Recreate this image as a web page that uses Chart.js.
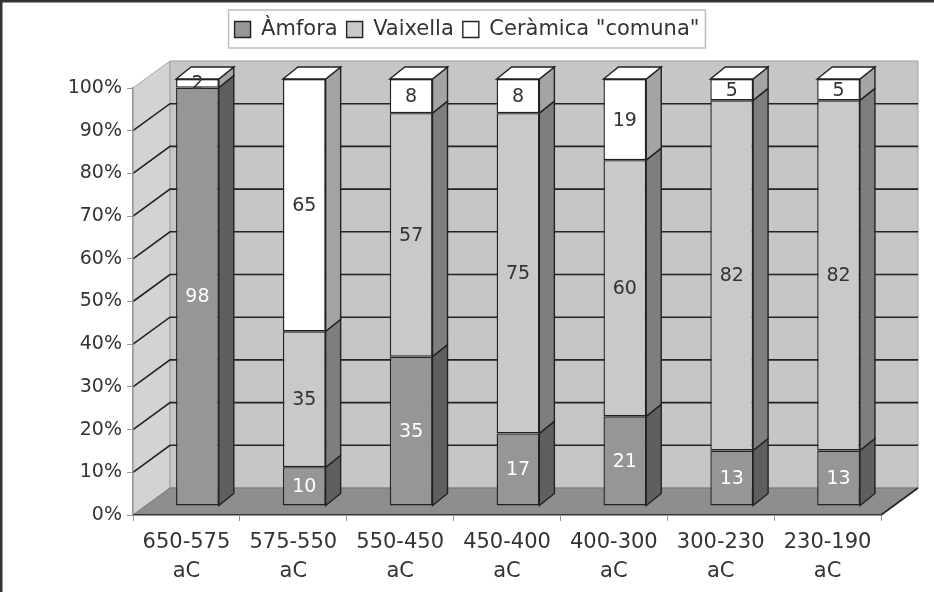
<!DOCTYPE html>
<html>
<head>
<meta charset="utf-8">
<script src="https://cdn.jsdelivr.net/npm/chart.js@4.4.1/dist/chart.umd.min.js"></script>
<style>
    html, body { margin: 0; padding: 0; background: #fff; }
    #wrap { width: 934px; height: 592px; position: relative; }
</style>
</head>
<body>
<div id="wrap"><canvas id="myChart"></canvas></div>
<script>
// dades
const periodes = [
    ['650-575', 'aC'], ['575-550', 'aC'], ['550-450', 'aC'], ['450-400', 'aC'],
    ['400-300', 'aC'], ['300-230', 'aC'], ['230-190', 'aC']
];
const amfora = [98, 10, 35, 17, 21, 13, 13];
const vaixella = [0, 35, 57, 75, 60, 82, 82];
const ceramica = [2, 65, 8, 8, 19, 5, 5];

// percentatge de cada periode (grafic 100% apilat)
function percent(serie) {
    return serie.map((v, i) => v / (amfora[i] + vaixella[i] + ceramica[i]) * 100);
}

const FONT = '"DejaVu Sans", sans-serif';
const PARET = { x: 37, y: -27 };   // fons de la paret
const DESPL = { x: 11, y: -9 };    // cara frontal de les columnes
const PROF = { x: 15, y: -12 };    // gruix de les columnes

function poly(ctx, pts, fill, stroke, lw) {
    ctx.beginPath();
    ctx.moveTo(pts[0][0], pts[0][1]);
    for (let i = 1; i < pts.length; i++) ctx.lineTo(pts[i][0], pts[i][1]);
    ctx.closePath();
    if (fill) { ctx.fillStyle = fill; ctx.fill(); }
    if (stroke) { ctx.strokeStyle = stroke; ctx.lineWidth = lw; ctx.stroke(); }
}

const legendMargin = {
    id: 'legendMargin',
    beforeInit(chart) {
        if (!chart.legend) return;
        const fitValue = chart.legend.fit;
        chart.legend.fit = function fit() {
            fitValue.bind(chart.legend)();
            this.height += 38;
        };
    },
    afterLayout(chart) {
        // llegenda centrada a tota l'amplada
        if (!chart.legend) return;
        chart.legend.left = 0;
        chart.legend.right = chart.width;
        chart.legend.width = chart.width;
    }
};

const grafic3d = {
    id: 'grafic3d',
    beforeDraw(chart) {
        const ctx = chart.ctx;
        const a = chart.chartArea;
        const y = chart.scales.y;
        const top = y.getPixelForValue(100), bot = y.getPixelForValue(0);
        const d = PARET;
        ctx.save();
        // paret esquerra
        poly(ctx, [[a.left, bot], [a.left, top], [a.left + d.x, top + d.y], [a.left + d.x, bot + d.y]], '#d3d3d3', '#a5a5a5', 1);
        // paret del fons
        poly(ctx, [[a.left + d.x, top + d.y], [a.right + d.x, top + d.y], [a.right + d.x, bot + d.y], [a.left + d.x, bot + d.y]], '#c6c6c6', '#a0a0a0', 1);
        // linies de quadricula
        ctx.strokeStyle = '#222';
        ctx.lineWidth = 1.6;
        y.ticks.forEach(t => {
            if (t.value <= 0 || t.value >= 100) return;
            const py = y.getPixelForValue(t.value);
            ctx.beginPath();
            ctx.moveTo(a.left, py);
            ctx.lineTo(a.left + d.x, py + d.y);
            ctx.lineTo(a.right + d.x, py + d.y);
            ctx.stroke();
        });
        // terra
        poly(ctx, [[a.left, bot], [a.left + d.x, bot + d.y], [a.right + d.x, bot + d.y], [a.right, bot]], '#8e8e8e', null, 0);
        ctx.strokeStyle = '#777';
        ctx.lineWidth = 1;
        ctx.beginPath();
        ctx.moveTo(a.left, bot); ctx.lineTo(a.left + d.x, bot + d.y); ctx.lineTo(a.right + d.x, bot + d.y);
        ctx.stroke();
        ctx.strokeStyle = '#222';
        ctx.lineWidth = 1.6;
        ctx.beginPath();
        ctx.moveTo(a.right + d.x, bot + d.y); ctx.lineTo(a.right, bot);
        ctx.stroke();
        ctx.restore();
    },
    beforeDatasetsDraw(chart) {
        chart.ctx.save();
        chart.ctx.translate(DESPL.x, DESPL.y);
    },
    afterDatasetsDraw(chart) {
        const ctx = chart.ctx;
        const sets = chart.data.datasets;
        sets.forEach((ds, i) => {
            chart.getDatasetMeta(i).data.forEach((el, j) => {
                if (!ds.valors[j]) return;
                const l = el.x - el.width / 2, r = el.x + el.width / 2;
                poly(ctx, [[r, el.y], [r + PROF.x, el.y + PROF.y], [r + PROF.x, el.base + PROF.y], [r, el.base]], ds.colorLateral, '#222', 1.4);
                let dalt = true;
                for (let k = i + 1; k < sets.length; k++) if (sets[k].valors[j]) dalt = false;
                if (dalt) {
                    poly(ctx, [[l, el.y], [l + PROF.x, el.y + PROF.y], [r + PROF.x, el.y + PROF.y], [r, el.y]], ds.colorDalt, '#222', 1.4);
                }
            });
        });
        // etiquetes
        ctx.font = '19px ' + FONT;
        ctx.textAlign = 'center';
        ctx.textBaseline = 'middle';
        sets.forEach((ds, i) => {
            chart.getDatasetMeta(i).data.forEach((el, j) => {
                if (!ds.valors[j]) return;
                ctx.fillStyle = ds.colorEtiqueta;
                ctx.fillText(ds.valors[j], el.x, (el.y + el.base) / 2 + 1);
            });
        });
        ctx.restore();
    },
    afterDraw(chart) {
        const ctx = chart.ctx;
        const hb = chart.legend.legendHitBoxes;
        ctx.save();
        if (hb && hb.length) {
            const last = hb[hb.length - 1];
            const x0 = hb[0].left - 6, x1 = last.left + last.width + 6;
            const y0 = hb[0].top - 9, y1 = hb[0].top + hb[0].height + 8;
            ctx.strokeStyle = '#bdbdbd';
            ctx.lineWidth = 1.5;
            ctx.strokeRect(x0, y0, x1 - x0, y1 - y0);
        }
        ctx.fillStyle = '#333';
        ctx.fillRect(0, 0, chart.width, 2.5);
        ctx.fillRect(0, 0, 2.5, chart.height);
        ctx.restore();
    }
};

const ctx = document.getElementById('myChart').getContext('2d');
const myChart = new Chart(ctx, {
    type: 'bar',
    data: {
        labels: periodes,
        datasets: [{
            label: 'Àmfora',
            data: percent(amfora),
            valors: amfora,
            backgroundColor: '#969696',
            colorLateral: '#5f5f5f',
            colorDalt: '#d0d0d0',
            colorEtiqueta: '#fff',
            borderColor: '#222',
            borderWidth: 1.4,
            borderSkipped: false
        }, {
            label: 'Vaixella',
            data: percent(vaixella),
            valors: vaixella,
            backgroundColor: '#c9c9c9',
            colorLateral: '#7e7e7e',
            colorDalt: '#e6e6e6',
            colorEtiqueta: '#333',
            borderColor: '#222',
            borderWidth: 1.4,
            borderSkipped: false
        }, {
            label: 'Ceràmica "comuna"',
            data: percent(ceramica),
            valors: ceramica,
            backgroundColor: '#ffffff',
            colorLateral: '#a4a4a4',
            colorDalt: '#ffffff',
            colorEtiqueta: '#333',
            borderColor: '#222',
            borderWidth: 1.4,
            borderSkipped: false
        }]
    },
    options: {
        responsive: true,
        maintainAspectRatio: false,
        animation: false,
        layout: { padding: { top: 10, right: 53, left: 0, bottom: 0 } },
        datasets: { bar: { barPercentage: 0.4, categoryPercentage: 1.0, clip: false } },
        plugins: {
            tooltip: { enabled: false },
            legend: {
                position: 'top',
                labels: {
                    boxWidth: 16,
                    boxHeight: 16,
                    padding: 9,
                    color: '#333',
                    font: { family: FONT, size: 21 }
                }
            }
        },
        scales: {
            x: {
                stacked: true,
                grid: { drawOnChartArea: false, tickLength: 6, color: '#999' },
                border: { color: '#333', width: 1.6 },
                ticks: {
                    color: '#333',
                    padding: 7,
                    maxRotation: 0,
                    font: { family: FONT, size: 21, lineHeight: 1.38 }
                },
                afterFit(scale) { scale.height = 77; }
            },
            y: {
                stacked: true,
                min: 0,
                max: 100,
                grid: { drawOnChartArea: false, tickLength: 6, color: '#999' },
                border: { color: '#999', width: 1.5 },
                ticks: {
                    stepSize: 10,
                    color: '#333',
                    padding: 5,
                    font: { family: FONT, size: 19 },
                    callback: v => v + '%'
                },
                afterFit(scale) { scale.width = 133; }
            }
        }
    },
    plugins: [legendMargin, grafic3d]
});
</script>
</body>
</html>
